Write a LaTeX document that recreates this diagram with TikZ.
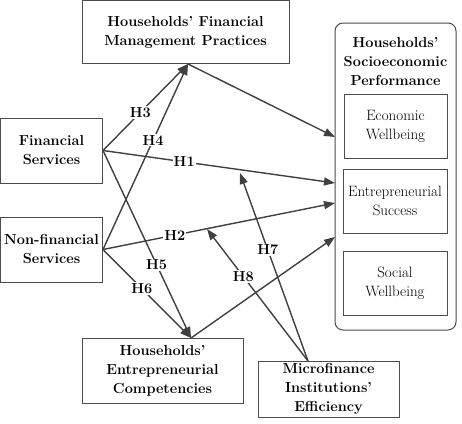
\documentclass[tikz,border=0pt]{standalone}
\usetikzlibrary{arrows.meta}

\begin{document}
\begin{tikzpicture}[x=1pt,y=-1pt,
  box/.style={draw=cbox,line width=1pt,align=center,inner sep=0pt,font=\fontsize{15}{19}\selectfont},
  bbox/.style={box,font=\fontsize{14.5}{19}\selectfont\bfseries},
  link/.style={draw=clink,line width=1.4pt,-{Triangle[length=11pt,width=8pt]}},
  hyp/.style={fill=white,inner sep=1pt,font=\fontsize{14.5}{19}\selectfont\bfseries}]
\definecolor{cbox}{rgb}{0.3,0.3,0.3}
\definecolor{clink}{rgb}{0.25,0.25,0.25}
\useasboundingbox (0,0) rectangle (462,423);
%
\node[bbox,minimum width=207pt,minimum height=63pt] (hfmp) at (185.5,32) {Households' Financial\\Management Practices};
\node[bbox,minimum width=102pt,minimum height=65pt] (fs) at (51.5,150.5) {Financial\\Services};
\node[bbox,minimum width=102pt,minimum height=65pt] (nfs) at (51.5,249.5) {Non-financial\\Services};
\node[bbox,minimum width=161pt,minimum height=65pt] (hec) at (162.5,370.5) {Households'\\Entrepreneurial\\Competencies};
\node[bbox,minimum width=141pt,minimum height=56pt] (mie) at (328.5,389) {Microfinance\\Institutions'\\Efficiency};
\node[box,rounded corners=8pt,minimum width=121pt,minimum height=307pt] (perf) at (395.5,176.5) {};
\node[font=\fontsize{14.5}{19}\selectfont\bfseries,align=center] (perftitle) at (395.5,62) {Households'\\Socioeconomic\\Performance};
\node[box,minimum width=103pt,minimum height=64pt] (ew) at (395.5,126) {Economic\\Wellbeing};
\node[box,minimum width=104pt,minimum height=64pt] (es) at (395,201) {Entrepreneurial\\Success};
\node[box,minimum width=104pt,minimum height=64pt] (sw) at (395,283) {Social\\Wellbeing};
%
\coordinate (hb) at (188,64);
\coordinate (hect) at (191,338);
\coordinate (miet) at (308,361);
\coordinate (p1) at (335,137);
\coordinate (p2) at (335,183);
\coordinate (p3) at (335,203);
\coordinate (p4) at (335,237);
\coordinate (m1) at (240,173);
\coordinate (m2) at (207,229);
%
\draw[link] (fs.east) -- node[hyp,pos=0.44] {H3} (hb);
\draw[link] (nfs.east) -- node[hyp,pos=0.59] {H4} (hb);
\draw[link] (fs.east) -- node[hyp,pos=0.35] {H1} (p2);
\draw[link] (nfs.east) -- node[hyp,pos=0.31] {H2} (p3);
\draw[link] (fs.east) -- node[hyp,pos=0.61] {H5} (hect);
\draw[link] (nfs.east) -- node[hyp,pos=0.44] {H6} (hect);
\draw[link] (hb) -- (p1);
\draw[link] (hect) -- (p4);
\draw[link] (miet) -- node[hyp,pos=0.59] {H7} (m1);
\draw[link] (miet) -- node[hyp,pos=0.64] {H8} (m2);
%
\end{tikzpicture}
\end{document}
